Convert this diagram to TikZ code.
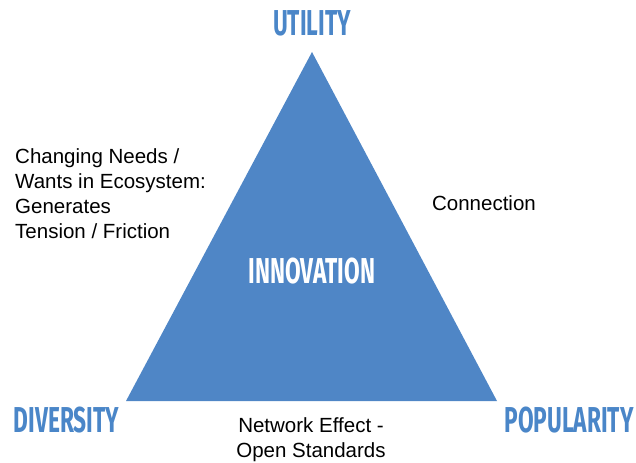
\documentclass[tikz,border=0pt]{standalone}
\usepackage{fontspec}
\usepackage{graphicx}
\setmainfont{Liberation Sans}
\newfontfamily\labfont{Fira Sans}
\definecolor{triblue}{RGB}{79,134,198}
\definecolor{labblue}{RGB}{74,134,200}
\begin{document}
\begin{tikzpicture}[x=1bp,y=-1bp,
  vlabel/.style={inner sep=0pt,text=labblue,font=\labfont\bfseries\fontsize{36bp}{36bp}\selectfont},
  body/.style={inner sep=0pt,align=left,font=\fontsize{20.5bp}{25bp}\selectfont},
  ]
\useasboundingbox (0,0) rectangle (636,463);
\coordinate (apex) at (312,52);
\coordinate (bl) at (126,401);
\coordinate (br) at (497,401);
\fill[triblue] (apex) -- (bl) -- (br) -- cycle;
\node[vlabel] (util) at (312,23.5) {\scalebox{0.63}[1]{UTILITY}};
\node[vlabel] (div) at (66.5,420.5) {\scalebox{0.63}[1]{DIVERSITY}};
\node[vlabel] (pop) at (569,420.5) {\scalebox{0.63}[1]{POPULARITY}};
\node[vlabel,text=white] (innov) at (312,271) {\scalebox{0.63}[1]{INNOVATION}};
\node[body,anchor=north west] (needs) at (15,148) {Changing Needs /\\Wants in Ecosystem:\\Generates\\Tension / Friction};
\node[body] (conn) at (484,203) {Connection};
\node[body,align=center] (net) at (311,439.5) {Network Effect -\\Open Standards};
\end{tikzpicture}
\end{document}
